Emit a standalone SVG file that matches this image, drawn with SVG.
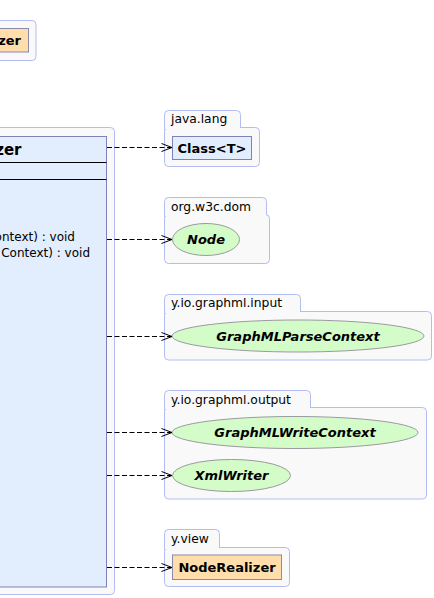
<svg xmlns="http://www.w3.org/2000/svg" width="434" height="598" viewBox="0 0 434 598">
<style>
.pkg{fill:#f9f9f9;stroke:#b4bcf4;stroke-width:1}
.cls{fill:#e2edfd;stroke:#7d82b8;stroke-width:1}
.org{fill:#ffdeac;stroke:#8a8aae;stroke-width:1}
.ell{fill:#d4fcc8;stroke:#9a9aa0;stroke-width:1}
.plabel{font-family:"DejaVu Sans",sans-serif;font-size:12.3px;fill:#000}
.name{font-family:"DejaVu Sans",sans-serif;font-size:13px;font-weight:bold;fill:#000}
.iname{font-family:"DejaVu Sans",sans-serif;font-size:13px;font-weight:bold;font-style:italic;fill:#000}
.meth{font-family:"DejaVu Sans",sans-serif;font-size:12px;fill:#000}
.edge{fill:none;stroke:#000;stroke-width:1;stroke-dasharray:5,2.5}
.head{fill:none;stroke:#000;stroke-width:1}
</style>
<defs>
<marker id="open" markerWidth="12" markerHeight="10" refX="11" refY="5" orient="auto" markerUnits="userSpaceOnUse">
<path class="head" d="M0.5,1 L11,5 L0.5,9"/>
</marker>
</defs>

<g id="pkg-top">
<rect class="pkg" x="-10" y="20.5" width="46" height="40" rx="4"/>
<g id="node-top">
<rect class="org" x="-10" y="28.5" width="38.5" height="23.5"/>
<text class="name" x="21" y="45" text-anchor="end">zer</text>
</g>
</g>

<g id="pkg-main">
<rect class="pkg" x="-10" y="127.5" width="124.5" height="467" rx="4"/>
<g id="node-main">
<rect class="cls" x="-10" y="136.5" width="116.5" height="450.5"/>
<line x1="-10" y1="162.5" x2="106.5" y2="162.5" stroke="#000"/>
<line x1="-10" y1="179.5" x2="106.5" y2="179.5" stroke="#000"/>
<text class="name" x="21.5" y="155" text-anchor="end" style="font-size:15px">zer</text>
<text class="meth" x="75" y="241" text-anchor="end">ontext) : void</text>
<text class="meth" x="90" y="257" text-anchor="end">Context) : void</text>
</g>
</g>

<g id="pkg-java-lang">
<rect class="pkg" x="164.5" y="110.5" width="76" height="24" rx="4"/>
<rect class="pkg" x="164.5" y="127.5" width="95" height="39" rx="4"/>
<rect x="165" y="127" width="75" height="2" fill="#f9f9f9"/>
<text class="plabel" x="171" y="123">java.lang</text>
<g id="node-class">
<rect class="cls" x="172.5" y="136.5" width="79" height="23"/>
<text class="name" x="212" y="152.5" text-anchor="middle">Class&lt;T&gt;</text>
</g>
</g>

<g id="pkg-w3c">
<rect class="pkg" x="164.5" y="197.5" width="102" height="24" rx="4"/>
<rect class="pkg" x="164.5" y="214.5" width="105" height="49" rx="4"/>
<rect x="165" y="214" width="101" height="2" fill="#f9f9f9"/>
<text class="plabel" x="171" y="211">org.w3c.dom</text>
<g id="node-node">
<ellipse class="ell" cx="206" cy="239.5" rx="33.5" ry="16"/>
<text class="iname" x="206" y="244" text-anchor="middle">Node</text>
</g>
</g>

<g id="pkg-input">
<rect class="pkg" x="164.5" y="294.5" width="136" height="24" rx="4"/>
<rect class="pkg" x="164.5" y="311.5" width="267" height="48.5" rx="4"/>
<rect x="165" y="311" width="135" height="2" fill="#f9f9f9"/>
<text class="plabel" x="171" y="307">y.io.graphml.input</text>
<g id="node-parse">
<ellipse class="ell" cx="298" cy="336" rx="126" ry="16"/>
<text class="iname" x="298" y="340.5" text-anchor="middle">GraphMLParseContext</text>
</g>
</g>

<g id="pkg-output">
<rect class="pkg" x="164.5" y="390.5" width="146" height="24" rx="4"/>
<rect class="pkg" x="164.5" y="407.5" width="262" height="91.5" rx="4"/>
<rect x="165" y="407" width="145" height="2" fill="#f9f9f9"/>
<text class="plabel" x="171" y="404">y.io.graphml.output</text>
<g id="node-write">
<ellipse class="ell" cx="295" cy="432.5" rx="123" ry="16"/>
<text class="iname" x="295" y="437" text-anchor="middle">GraphMLWriteContext</text>
</g>
<g id="node-xmlwriter">
<ellipse class="ell" cx="231.5" cy="475.5" rx="59" ry="16"/>
<text class="iname" x="231.5" y="480" text-anchor="middle">XmlWriter</text>
</g>
</g>

<g id="pkg-view">
<rect class="pkg" x="164.5" y="529.5" width="55" height="24" rx="4"/>
<rect class="pkg" x="164.5" y="547.5" width="125" height="39" rx="4"/>
<rect x="165" y="547" width="54" height="2" fill="#f9f9f9"/>
<text class="plabel" x="171" y="543">y.view</text>
<g id="node-realizer">
<rect class="org" x="172.5" y="555" width="109" height="24.5"/>
<text class="name" x="227" y="571.5" text-anchor="middle">NodeRealizer</text>
</g>
</g>

<g id="connectors">
<line class="edge" x1="107" y1="147.5" x2="172" y2="147.5" marker-end="url(#open)"/>
<line class="edge" x1="107" y1="239.5" x2="172" y2="239.5" marker-end="url(#open)"/>
<line class="edge" x1="107" y1="336.5" x2="172" y2="336.5" marker-end="url(#open)"/>
<line class="edge" x1="107" y1="432.5" x2="172" y2="432.5" marker-end="url(#open)"/>
<line class="edge" x1="107" y1="475.5" x2="172" y2="475.5" marker-end="url(#open)"/>
<line class="edge" x1="107" y1="567.5" x2="172" y2="567.5" marker-end="url(#open)"/>
</g>
</svg>
